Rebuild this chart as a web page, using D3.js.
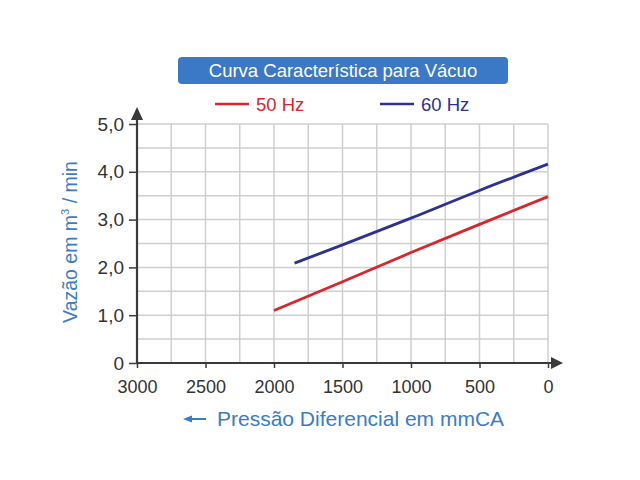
<!DOCTYPE html>
<html>
<head>
<meta charset="utf-8">
<script src="https://cdn.jsdelivr.net/npm/d3@7"></script>
<style>
  html, body { margin: 0; padding: 0; background: #fff; }
  svg text { font-family: "Liberation Sans", Arial, sans-serif; }
</style>
</head>
<body>
<svg id="chart" width="640" height="480"></svg>
<script>
'use strict';

// values
const pressure50 = [2000, 1500, 1000, 500, 0];
const flow50 = [1.10, 1.70, 2.31, 2.90, 3.48];
const pressure60 = [1850, 1500, 1000, 500, 0];
const flow60 = [2.09, 2.47, 3.03, 3.61, 4.16];

const xTicks = [3000, 2500, 2000, 1500, 1000, 500, 0];
const yTicks = [0, 1, 2, 3, 4, 5];
const xGrid = [2750, 2500, 2250, 2000, 1750, 1500, 1250, 1000, 750, 500, 250, 0];
const yGrid = [0.5, 1, 1.5, 2, 2.5, 3, 3.5, 4, 4.5, 5];

const seriesNames = ['50 Hz', '60 Hz'];
const TITLE = 'Curva Característica para Vácuo';

const COLOR = {
    S50: '#d8262e',
    S60: '#2e3192',
    TITLE_BOX: '#3b78c5',
    LABEL: '#3b7cc8',
    AXIS: '#3a3a3a',
    GRID: '#cfcfcf',
    TEXT: '#333333'
};

const svg = d3.select('#chart');

const x = d3.scaleLinear().domain([3000, 0]).range([137, 548]);
const y = d3.scaleLinear().domain([0, 5]).range([363, 124]);

// grid
svg.append('g').selectAll('line')
    .data(xGrid)
    .enter()
    .append('line')
    .attr('x1', d => x(d)).attr('x2', d => x(d))
    .attr('y1', y(0)).attr('y2', y(5))
    .attr('stroke', COLOR.GRID)
    .attr('stroke-width', 1.5);

svg.append('g').selectAll('line')
    .data(yGrid)
    .enter()
    .append('line')
    .attr('x1', x(3000)).attr('x2', x(0))
    .attr('y1', d => y(d)).attr('y2', d => y(d))
    .attr('stroke', COLOR.GRID)
    .attr('stroke-width', 1.5);

// axes ticks + labels
const xAxis = d3.axisBottom(x)
    .tickValues(xTicks)
    .tickSize(5)
    .tickPadding(12)
    .tickFormat(d3.format('d'));
const gx = svg.append('g').attr('transform', 'translate(0,' + y(0) + ')').call(xAxis);

const yAxis = d3.axisLeft(y)
    .tickValues(yTicks)
    .tickSize(8)
    .tickPadding(5)
    .tickFormat(d => d === 0 ? '0' : d3.format('.1f')(d).replace('.', ','));
const gy = svg.append('g').attr('transform', 'translate(' + x(3000) + ',0)').call(yAxis);

[gx, gy].forEach(function(g) {
    g.select('.domain').remove();
    g.selectAll('.tick line').attr('stroke', COLOR.AXIS).attr('stroke-width', 1.5);
    g.selectAll('.tick text').attr('fill', COLOR.TEXT);
});
gx.selectAll('.tick text').style('font-size', '18px');
gy.selectAll('.tick text').style('font-size', '19px');

// axis lines with arrow heads
svg.append('line')
    .attr('x1', x(3000)).attr('x2', 556)
    .attr('y1', y(0)).attr('y2', y(0))
    .attr('stroke', COLOR.AXIS).attr('stroke-width', 2.2);
svg.append('path')
    .attr('d', 'M563,' + y(0) + ' L551,' + (y(0) - 6) + ' L551,' + (y(0) + 6) + ' Z')
    .attr('fill', COLOR.AXIS);

svg.append('line')
    .attr('x1', x(3000)).attr('x2', x(3000))
    .attr('y1', y(0)).attr('y2', 116)
    .attr('stroke', COLOR.AXIS).attr('stroke-width', 2.2);
svg.append('path')
    .attr('d', 'M' + x(3000) + ',107 L' + (x(3000) - 6) + ',120 L' + (x(3000) + 6) + ',120 Z')
    .attr('fill', COLOR.AXIS);

// curves
const line = d3.line()
    .x(d => x(d[0]))
    .y(d => y(d[1]))
    .curve(d3.curveMonotoneX);

svg.append('path')
    .datum(d3.zip(pressure50, flow50))
    .attr('d', line)
    .attr('fill', 'none')
    .attr('stroke', COLOR.S50)
    .attr('stroke-width', 2.8);

svg.append('path')
    .datum(d3.zip(pressure60, flow60))
    .attr('d', line)
    .attr('fill', 'none')
    .attr('stroke', COLOR.S60)
    .attr('stroke-width', 2.8);

// title box
svg.append('rect')
    .attr('x', 178).attr('y', 57)
    .attr('width', 330).attr('height', 27)
    .attr('rx', 4)
    .attr('fill', COLOR.TITLE_BOX);
svg.append('text')
    .attr('x', 343).attr('y', 77)
    .attr('text-anchor', 'middle')
    .attr('fill', '#ffffff')
    .style('font-size', '18.5px')
    .text(TITLE);

// legend
const legend = [
    {name: seriesNames[0], color: COLOR.S50, x: 215},
    {name: seriesNames[1], color: COLOR.S60, x: 380}
];
const lg = svg.append('g').selectAll('g')
    .data(legend)
    .enter()
    .append('g')
    .attr('transform', d => 'translate(' + d.x + ',104)');
lg.append('line')
    .attr('x1', 0).attr('x2', 34)
    .attr('y1', 0).attr('y2', 0)
    .attr('stroke', d => d.color)
    .attr('stroke-width', 2.5);
lg.append('text')
    .attr('x', 41).attr('y', 6.5)
    .attr('fill', d => d.color)
    .style('font-size', '18.5px')
    .text(d => d.name);

// y label
const yl = svg.append('text')
    .attr('transform', 'translate(77,242) rotate(-90)')
    .attr('text-anchor', 'middle')
    .attr('fill', COLOR.LABEL)
    .style('font-size', '19.5px');
yl.append('tspan').text('Vazão em m');
yl.append('tspan').attr('dy', -8).style('font-size', '11px').text('3');
yl.append('tspan').attr('dy', 8).text(' / min');

// x label with arrow
svg.append('line')
    .attr('x1', 190).attr('x2', 206)
    .attr('y1', 419).attr('y2', 419)
    .attr('stroke', COLOR.LABEL).attr('stroke-width', 2);
svg.append('path')
    .attr('d', 'M183,419 L192,415.5 L192,422.5 Z')
    .attr('fill', COLOR.LABEL);
svg.append('text')
    .attr('x', 217).attr('y', 426)
    .attr('fill', COLOR.LABEL)
    .style('font-size', '21px')
    .text('Pressão Diferencial em mmCA');
</script>
</body>
</html>
